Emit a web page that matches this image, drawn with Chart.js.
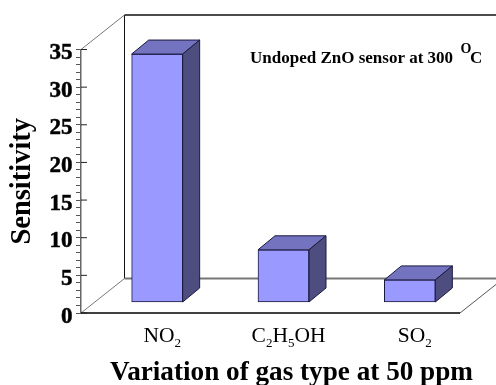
<!DOCTYPE html>
<html>
<head>
<meta charset="utf-8">
<title>Sensitivity by gas type</title>
<script src="https://cdn.jsdelivr.net/npm/chart.js@4"></script>
<style>
  html, body { margin: 0; padding: 0; background: #fff; }
  canvas { display: block; }
</style>
</head>
<body>
<canvas id="myChart" width="496" height="385"></canvas>
<script>
const categories = ["NO2", "C2H5OH", "SO2"];
const sensitivity = [33, 7, 3];
const majorTicks = [0, 5, 10, 15, 20, 25, 30, 35];

const SERIF = '"Liberation Serif", serif';
const DEPTH_X = 43.5, DEPTH_Y = 34.5;   // floor depth of the 3D box
const BAR_DX = 13, BAR_DY = 10.5;       // bars stand partway into the floor
const BAR_SIDE_X = 17, BAR_SIDE_Y = 14; // depth of each bar

function line(ctx, x1, y1, x2, y2, color, width) {
  ctx.beginPath();
  ctx.moveTo(x1, y1);
  ctx.lineTo(x2, y2);
  ctx.strokeStyle = color;
  ctx.lineWidth = width;
  ctx.stroke();
}

function face(ctx, pts, fill) {
  ctx.beginPath();
  pts.forEach((p, i) => (i ? ctx.lineTo(p[0], p[1]) : ctx.moveTo(p[0], p[1])));
  ctx.closePath();
  ctx.fillStyle = fill;
  ctx.fill();
  ctx.strokeStyle = "#1a1a40";
  ctx.lineWidth = 1;
  ctx.stroke();
}

// Digits in a formula go down as subscripts
function drawFormula(ctx, text, cx, y) {
  const parts = text.match(/\d+|\D+/g);
  const big = "21.5px " + SERIF, small = "13px " + SERIF;
  let total = 0;
  parts.forEach((p) => {
    ctx.font = /\d/.test(p) ? small : big;
    total += ctx.measureText(p).width;
  });
  let x = cx - total / 2;
  ctx.textAlign = "left";
  ctx.textBaseline = "alphabetic";
  ctx.fillStyle = "#000";
  parts.forEach((p) => {
    const sub = /\d/.test(p);
    ctx.font = sub ? small : big;
    ctx.fillText(p, x, sub ? y + 5 : y);
    x += ctx.measureText(p).width;
  });
}

const box3d = {
  id: "box3d",
  beforeDatasetsDraw(chart) {
    const { ctx, chartArea: a } = chart;
    const backX = a.left + DEPTH_X;
    const topY = a.top - DEPTH_Y;
    const backY = a.bottom - DEPTH_Y;
    ctx.save();
    line(ctx, backX, topY, backX, backY, "#111", 1);
    line(ctx, backX, topY, 496, topY, "#111", 1.5);
    line(ctx, a.left, a.top, backX, topY, "#777", 1);
    line(ctx, a.left, a.bottom, backX, backY, "#777", 1);
    line(ctx, a.right, a.bottom, a.right + DEPTH_X, backY, "#555", 1);
    line(ctx, backX, backY, 496, backY, "#777", 2);
    line(ctx, a.left, a.bottom, a.right, a.bottom, "#000", 1.5);
    ctx.restore();
    // bars get moved back onto the floor
    ctx.save();
    ctx.translate(BAR_DX, -BAR_DY);
  },
  afterDatasetsDraw(chart) {
    const { ctx, chartArea: a } = chart;
    chart.getDatasetMeta(0).data.forEach((bar) => {
      const l = bar.x - bar.width / 2, r = bar.x + bar.width / 2;
      face(ctx, [[l, bar.y], [r, bar.y], [r + BAR_SIDE_X, bar.y - BAR_SIDE_Y], [l + BAR_SIDE_X, bar.y - BAR_SIDE_Y]], "#7373bf");
      face(ctx, [[r, bar.y], [r + BAR_SIDE_X, bar.y - BAR_SIDE_Y], [r + BAR_SIDE_X, bar.base - BAR_SIDE_Y], [r, bar.base]], "#4d4d80");
    });
    ctx.restore();

    ctx.save();
    // inner half of the major ticks, and their labels set a little low
    const yScale = chart.scales.y;
    ctx.fillStyle = "#000";
    ctx.strokeStyle = "#000";
    majorTicks.forEach((v) => {
      const y = yScale.getPixelForValue(v);
      line(ctx, a.left, y, a.left + 6, y, "#222", 1);
      ctx.font = "bold 23px " + SERIF;
      ctx.textAlign = "right";
      ctx.textBaseline = "alphabetic";
      ctx.lineWidth = 0.5;
      ctx.strokeStyle = "#000";
      ctx.fillText(String(v), 72.5, y + 9.5);
      ctx.strokeText(String(v), 72.5, y + 9.5);
    });

    const xScale = chart.scales.x;
    categories.forEach((c, i) => {
      drawFormula(ctx, c, xScale.getPixelForTick(i) + 18, 341.5);
    });

    ctx.fillStyle = "#000";
    ctx.textAlign = "center";
    ctx.textBaseline = "alphabetic";
    ctx.font = "bold 27.2px " + SERIF;
    ctx.fillText("Variation of gas type at 50 ppm", 291.5, 380);

    ctx.textAlign = "left";
    ctx.font = "bold 17px " + SERIF;
    ctx.fillText("Undoped ZnO sensor at 300", 250, 63);
    ctx.font = "bold 14px " + SERIF;
    ctx.fillText("O", 460.5, 52.5);
    ctx.font = "bold 17px " + SERIF;
    ctx.fillText("C", 470, 63);
    ctx.restore();
  },
};

new Chart(document.getElementById("myChart"), {
  type: "bar",
  data: {
    labels: categories,
    datasets: [
      {
        data: sensitivity,
        backgroundColor: "#9999ff",
        borderColor: "#1a1a40",
        borderWidth: 1,
        borderSkipped: false,
        barThickness: 51,
        clip: false,
      },
    ],
  },
  options: {
    responsive: false,
    animation: false,
    layout: { padding: { top: 49.5, right: 36, left: 0, bottom: 0 } },
    plugins: { legend: { display: false }, tooltip: { enabled: false } },
    scales: {
      x: {
        afterFit(scale) { scale.height = 72; },
        border: { display: false },
        grid: { display: false },
        ticks: { display: false },
      },
      y: {
        min: 0,
        max: 35,
        afterFit(scale) { scale.width = 81; },
        border: { color: "#666", width: 1.5 },
        grid: { drawOnChartArea: false, tickLength: 5, color: "#555", tickWidth: 1 },
        ticks: {
          stepSize: 1,
          autoSkip: false,
          callback: () => "",
        },
        title: {
          display: true,
          text: "Sensitivity",
          color: "#000",
          font: { family: SERIF, size: 28.5, weight: "bold" },
          padding: { top: 6, bottom: 0 },
        },
      },
    },
  },
  plugins: [box3d],
});
</script>
</body>
</html>
